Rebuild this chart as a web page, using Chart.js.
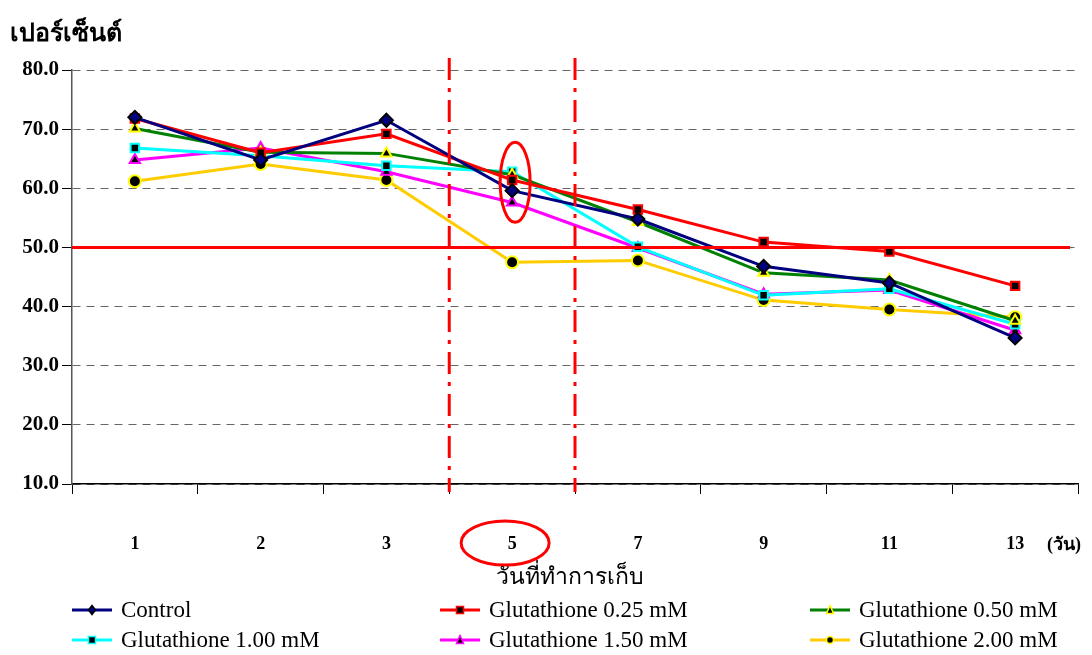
<!doctype html>
<html lang="th">
<head>
<meta charset="utf-8">
<script src="https://cdn.jsdelivr.net/npm/chart.js"></script>
<style>
  html, body { margin: 0; padding: 0; background: #fff; }
</style>
</head>
<body>
<canvas id="myChart" width="1092" height="655"></canvas>
<script>
  // data
  const days = ['1', '2', '3', '5', '7', '9', '11', '13'];
  const control = [72.0, 64.8, 71.5, 59.6, 54.8, 46.8, 44.0, 34.7];
  const gsh025 = [71.8, 66.0, 69.2, 61.4, 56.4, 50.9, 49.3, 43.5];
  const gsh050 = [70.1, 66.1, 65.9, 62.3, 54.3, 45.7, 44.5, 37.6];
  const gsh100 = [66.8, 65.5, 63.8, 62.8, 50.1, 41.9, 43.0, 37.0];
  const gsh150 = [64.8, 66.8, 62.8, 57.6, 49.9, 42.1, 42.8, 36.0];
  const gsh200 = [61.2, 64.1, 61.4, 47.5, 47.8, 41.1, 39.5, 38.2];
  const seriesNames = ['Control', 'Glutathione 0.25 mM', 'Glutathione 0.50 mM',
    'Glutathione 1.00 mM', 'Glutathione 1.50 mM', 'Glutathione 2.00 mM'];
  const yMin = 10, yMax = 80, yStep = 10;
  const limitValue = 50;

  const serif = "'Liberation Serif', 'Times New Roman', serif";

  function ds(label, data, color, style, fill, border) {
    return {
      label: label,
      data: data,
      borderColor: color,
      backgroundColor: fill,
      borderWidth: 3,
      pointStyle: style,
      pointRadius: style === 'rectRot' ? 6.5 : 6,
      pointBackgroundColor: fill,
      pointBorderColor: border,
      pointBorderWidth: 2,
      tension: 0
    };
  }

  const datasets = [
    ds(seriesNames[0], control, '#000080', 'rectRot', '#000080', '#000000'),
    ds(seriesNames[1], gsh025, '#ff0000', 'rect', '#000000', '#ff0000'),
    ds(seriesNames[2], gsh050, '#008000', 'triangle', '#000000', '#ffff00'),
    ds(seriesNames[3], gsh100, '#00ffff', 'rect', '#000000', '#00ffff'),
    ds(seriesNames[4], gsh150, '#ff00ff', 'triangle', '#000000', '#ff00ff'),
    ds(seriesNames[5], gsh200, '#ffcc00', 'circle', '#000000', '#ffff00')
  ];

  function marker(ctx, style, x, y, r, fill, border) {
    ctx.save();
    ctx.fillStyle = fill;
    ctx.strokeStyle = border;
    ctx.lineWidth = 1.5;
    ctx.beginPath();
    if (style === 'rect') {
      ctx.rect(x - r, y - r, 2 * r, 2 * r);
    } else if (style === 'rectRot') {
      ctx.moveTo(x, y - r - 1); ctx.lineTo(x + r, y); ctx.lineTo(x, y + r + 1); ctx.lineTo(x - r, y);
      ctx.closePath();
    } else if (style === 'triangle') {
      ctx.moveTo(x, y - r - 1); ctx.lineTo(x + r, y + r); ctx.lineTo(x - r, y + r);
      ctx.closePath();
    } else {
      ctx.arc(x, y, r, 0, Math.PI * 2);
    }
    ctx.fill();
    ctx.stroke();
    ctx.restore();
  }

  const extras = {
    id: 'extras',
    afterDatasetsDraw(chart) {
      const ctx = chart.ctx;
      const xs = chart.scales.x, ys = chart.scales.y;
      const area = chart.chartArea;
      ctx.save();
      ctx.strokeStyle = '#ff0000';
      ctx.lineWidth = 3;

      // 50% limit line
      const y50 = ys.getPixelForValue(limitValue);
      ctx.beginPath();
      ctx.moveTo(area.left, y50);
      ctx.lineTo(area.right - 8, y50);
      ctx.stroke();

      // dash-dot lines around day 5
      ctx.setLineDash([22, 8, 4, 8]);
      [2, 3].forEach(function (i) {
        const bx = (xs.getPixelForValue(i) + xs.getPixelForValue(i + 1)) / 2;
        ctx.beginPath();
        ctx.moveTo(bx, area.top - 12);
        ctx.lineTo(bx, area.bottom + 8);
        ctx.stroke();
      });
      ctx.setLineDash([]);

      // ellipse round day 5 points
      const cx = xs.getPixelForValue(3) + 3;
      ctx.beginPath();
      ctx.ellipse(cx, ys.getPixelForValue(61), 15, 40, 0, 0, Math.PI * 2);
      ctx.stroke();
      // ellipse round the "5" label
      ctx.beginPath();
      ctx.ellipse(cx - 10, 543, 44, 22, 0, 0, Math.PI * 2);
      ctx.stroke();
      ctx.restore();
    },
    afterDraw(chart) {
      const ctx = chart.ctx;
      ctx.save();
      ctx.fillStyle = '#000';
      ctx.textBaseline = 'middle';

      ctx.font = 'bold 25px ' + serif;
      ctx.textAlign = 'left';
      ctx.fillText('เปอร์เซ็นต์', 10, 35);

      ctx.font = 'bold 18px ' + serif;
      ctx.fillText('(วัน)', 1047, 545);

      ctx.font = '23px ' + serif;
      ctx.textAlign = 'center';
      ctx.fillText('วันที่ทำการเก็บ', 570, 578);

      // legend, 3 columns x 2 rows
      const colX = [72, 440, 810];
      const rowY = [610, 640];
      ctx.font = '23px ' + serif;
      ctx.textAlign = 'left';
      chart.data.datasets.forEach(function (d, i) {
        const x = colX[i % 3], y = rowY[Math.floor(i / 3)];
        ctx.strokeStyle = d.borderColor;
        ctx.lineWidth = 3;
        ctx.beginPath();
        ctx.moveTo(x, y);
        ctx.lineTo(x + 40, y);
        ctx.stroke();
        marker(ctx, d.pointStyle, x + 20, y, 3.5, d.pointBackgroundColor, d.pointBorderColor);
        ctx.fillStyle = '#000';
        ctx.fillText(d.label, x + 49, y + 1);
      });
      ctx.restore();
    }
  };

  new Chart(document.getElementById('myChart'), {
    type: 'line',
    data: { labels: days, datasets: datasets },
    options: {
      responsive: false,
      animation: false,
      devicePixelRatio: 1,
      layout: { padding: { top: 70, right: 14, left: 0, bottom: 0 } },
      plugins: {
        legend: { display: false },
        title: { display: false },
        tooltip: { enabled: false }
      },
      scales: {
        x: {
          offset: true,
          afterFit: function (s) { s.height = 171; },
          border: { display: true, color: '#000', width: 1.5 },
          grid: {
            offset: true,
            drawOnChartArea: false,
            drawTicks: true,
            tickLength: 10,
            color: '#000',
            lineWidth: 1
          },
          ticks: {
            padding: 40,
            color: '#000',
            font: { family: serif, size: 18, weight: 'bold' }
          }
        },
        y: {
          min: yMin,
          max: yMax,
          afterFit: function (s) { s.width = 72; },
          border: { display: true, color: '#555', width: 1.5, dash: [8, 6] },
          grid: {
            color: '#666',
            lineWidth: 1,
            tickLength: 10,
            tickColor: '#000',
            tickBorderDash: []
          },
          ticks: {
            stepSize: yStep,
            padding: 3,
            color: '#000',
            font: { family: serif, size: 21, weight: 'bold' },
            callback: function (v) { return Number(v).toFixed(1); }
          }
        }
      }
    },
    plugins: [extras]
  });
</script>
</body>
</html>
